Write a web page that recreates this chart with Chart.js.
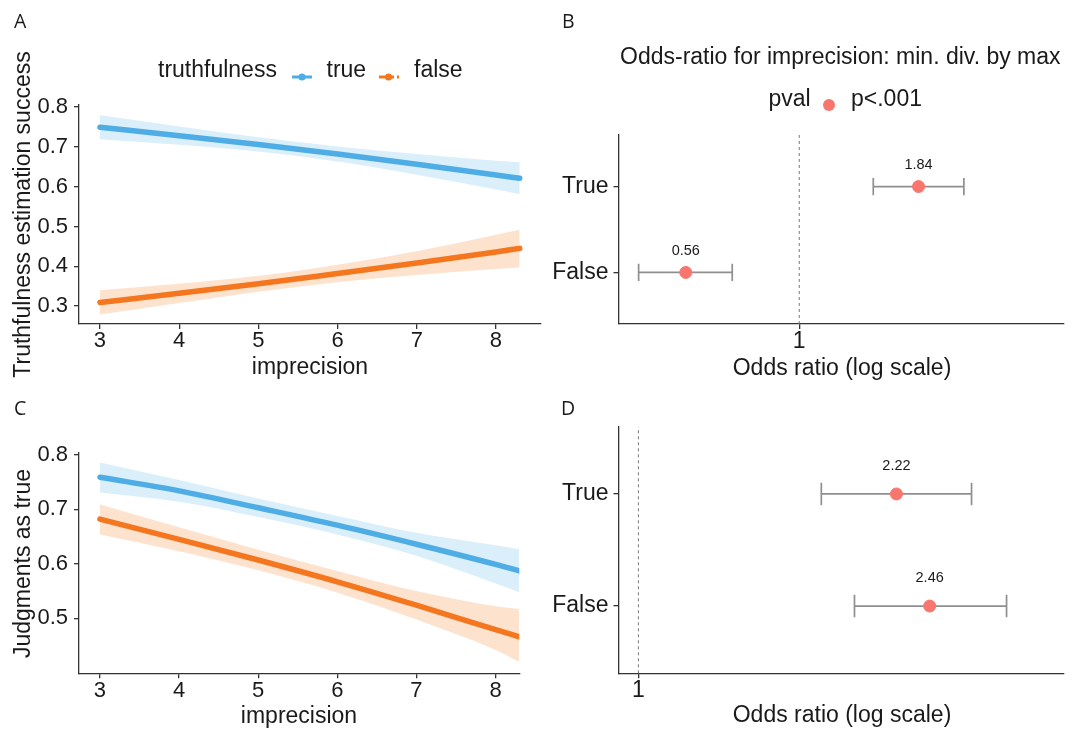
<!DOCTYPE html>
<html>
<head>
<meta charset="utf-8">
<script src="https://cdn.jsdelivr.net/npm/chart.js@4.4.1/dist/chart.umd.min.js"></script>
<style>
  body { margin: 0; background: #fff; }
  #page { position: relative; width: 1071px; height: 729px; overflow: hidden;
          font-family: 'Liberation Sans', Arial, sans-serif; color: #1a1a1a; }
  #page canvas { position: absolute; }
  .txt { position: absolute; white-space: nowrap; line-height: 1; font-size: 23px; }
  .letter { font-family: 'Open Sans', sans-serif; font-size: 19.5px; }
  .ytitle { width: 400px; text-align: center; transform: rotate(-90deg); }
  .xtitle { width: 400px; text-align: center; }
</style>
</head>
<body>
<div id="page">
  <canvas id="chartA" width="560" height="380" style="left:0;top:0"></canvas>
  <canvas id="chartB" width="531" height="380" style="left:540px;top:0"></canvas>
  <canvas id="chartC" width="560" height="349" style="left:0;top:380px"></canvas>
  <canvas id="chartD" width="531" height="349" style="left:540px;top:380px"></canvas>
</div>
<script>
// ---- data ----
const imprecision = [3, 4, 5, 6, 7, 8, 8.3];
const imprecisionTicks = [3, 4, 5, 6, 7, 8];

// panel A: truthfulness estimation success
const successTrue   = [0.749, 0.728, 0.706, 0.682, 0.656, 0.629, 0.621];
const successTrueHi = [0.779, 0.751, 0.724, 0.701, 0.682, 0.665, 0.661];
const successTrueLo = [0.719, 0.705, 0.688, 0.663, 0.630, 0.593, 0.581];
const successFalse   = [0.309, 0.332, 0.356, 0.382, 0.408, 0.436, 0.445];
const successFalseHi = [0.340, 0.356, 0.376, 0.404, 0.438, 0.479, 0.492];
const successFalseLo = [0.279, 0.308, 0.336, 0.360, 0.378, 0.393, 0.397];
const successTicks = [0.3, 0.4, 0.5, 0.6, 0.7, 0.8];

// panel C: judgments as true
const judgedTrue   = [0.759, 0.734, 0.703, 0.671, 0.636, 0.599, 0.587];
const judgedTrueHi = [0.786, 0.754, 0.720, 0.688, 0.657, 0.634, 0.627];
const judgedTrueLo = [0.731, 0.714, 0.686, 0.654, 0.615, 0.564, 0.548];
const judgedFalse   = [0.682, 0.645, 0.607, 0.567, 0.524, 0.479, 0.466];
const judgedFalseHi = [0.709, 0.667, 0.626, 0.587, 0.550, 0.522, 0.517];
const judgedFalseLo = [0.654, 0.623, 0.588, 0.547, 0.498, 0.442, 0.420];
const judgedTicks = [0.5, 0.6, 0.7, 0.8];

// panels B and D: odds ratios, rows bottom to top
const rowLabels = ['False', 'True'];
const oddsB   = [0.56, 1.84];
const oddsBLo = [0.44, 1.46];
const oddsBHi = [0.71, 2.32];
const oddsD   = [2.46, 2.22];
const oddsDLo = [1.95, 1.76];
const oddsDHi = [3.12, 2.80];
const oddsTicks = [1];

const FONT = "'Liberation Sans', Arial, sans-serif";
const TEXT = '#1a1a1a';
const AXIS = '#333333';
const BLUE = '#4EADE4', BLUE_BAND = 'rgba(86,180,233,0.22)';
const ORANGE = '#F4761E', ORANGE_BAND = 'rgba(246,140,50,0.24)';
const RED = '#F8766D';
const GREY = '#8f8f8f';

function axisStyle(extra) {
    return Object.assign({
        grid: { display: true, drawOnChartArea: false, drawTicks: true, tickLength: 5, color: AXIS, lineWidth: 1.3 },
        border: { display: true, color: AXIS, width: 1.3 }
    }, extra);
}

function pts(xs, ys) {
    return xs.map((x, i) => ({ x: x, y: ys[i] }));
}

function trendChart(id, pad, yWidth, xHeight, xMax, yMin, yMax, yTicks, series) {
    const datasets = [];
    series.forEach(s => {
        datasets.push({ data: pts(imprecision, s.hi), borderWidth: 0, pointRadius: 0,
            fill: '+1', backgroundColor: s.band, order: 2, cubicInterpolationMode: 'monotone' });
        datasets.push({ data: pts(imprecision, s.lo), borderWidth: 0, pointRadius: 0,
            fill: false, order: 2, cubicInterpolationMode: 'monotone' });
    });
    series.forEach(s => {
        datasets.push({ data: pts(imprecision, s.mid), borderColor: s.color, borderWidth: 5.5,
            pointRadius: 0, fill: false, order: 0, borderCapStyle: 'round', cubicInterpolationMode: 'monotone' });
    });

    return new Chart(document.getElementById(id), {
        type: 'line',
        data: { datasets },
        options: {
            responsive: false,
            animation: false,
            events: [],
            layout: { padding: pad },
            plugins: { legend: { display: false }, tooltip: { enabled: false } },
            scales: {
                x: axisStyle({
                    type: 'linear', min: 2.735, max: xMax,
                    afterBuildTicks: sc => { sc.ticks = imprecisionTicks.map(v => ({ value: v })); },
                    afterFit: sc => { sc.height = xHeight; },
                    ticks: { font: { family: FONT, size: 22 }, color: TEXT, padding: -1, callback: v => String(v) }
                }),
                y: axisStyle({
                    type: 'linear', min: yMin, max: yMax,
                    afterBuildTicks: sc => { sc.ticks = yTicks.map(v => ({ value: v })); },
                    afterFit: sc => { sc.width = yWidth; },
                    ticks: { font: { family: FONT, size: 22 }, color: TEXT, padding: 6, callback: v => v.toFixed(1) }
                })
            }
        }
    });
}

const valueLabels = {
    id: 'valueLabels',
    afterDatasetsDraw(chart, args, opts) {
        const { ctx } = chart;
        const x = chart.scales.x, y = chart.scales.y;
        ctx.save();
        ctx.font = '14.5px ' + FONT;
        ctx.fillStyle = TEXT;
        ctx.textAlign = 'center';
        ctx.textBaseline = 'middle';
        opts.values.forEach((v, i) => {
            ctx.fillText(v.toFixed(2), x.getPixelForValue(v), y.getPixelForValue(i + 1 + 0.25));
        });
        ctx.restore();
    }
};

function forestChart(id, pad, yWidth, xHeight, xMin, xMax, est, lo, hi) {
    const capHalf = c => Math.abs(c.chart.scales.y.getPixelForValue(1.1) - c.chart.scales.y.getPixelForValue(1));
    const datasets = [
        { type: 'line', data: [{ x: 1, y: 0.4 }, { x: 1, y: 2.6 }], borderColor: '#777', borderWidth: 1,
          borderDash: [3, 3], pointRadius: 0, order: 3 }
    ];
    est.forEach((v, i) => {
        datasets.push({ type: 'line', data: [{ x: lo[i], y: i + 1 }, { x: hi[i], y: i + 1 }],
            borderColor: GREY, borderWidth: 1.7, pointStyle: 'line', rotation: 90,
            pointRadius: capHalf, pointBorderColor: GREY, pointBorderWidth: 1.7, order: 2 });
    });
    datasets.push({ type: 'scatter', data: est.map((v, i) => ({ x: v, y: i + 1 })),
        backgroundColor: RED, borderColor: RED, pointRadius: 6, order: 0 });

    return new Chart(document.getElementById(id), {
        type: 'scatter',
        data: { datasets },
        plugins: [valueLabels],
        options: {
            responsive: false,
            animation: false,
            events: [],
            layout: { padding: pad },
            plugins: { legend: { display: false }, tooltip: { enabled: false }, valueLabels: { values: est } },
            scales: {
                x: axisStyle({
                    type: 'logarithmic', min: xMin, max: xMax,
                    afterBuildTicks: sc => { sc.ticks = oddsTicks.map(v => ({ value: v })); },
                    afterFit: sc => { sc.height = xHeight; },
                    ticks: { font: { family: FONT, size: 23 }, color: TEXT, padding: -1, callback: v => String(v) }
                }),
                y: axisStyle({
                    type: 'linear', min: 0.4, max: 2.6,
                    afterBuildTicks: sc => { sc.ticks = rowLabels.map((r, i) => ({ value: i + 1 })); },
                    afterFit: sc => { sc.width = yWidth; },
                    ticks: { font: { family: FONT, size: 23 }, color: TEXT, padding: 5, callback: v => rowLabels[v - 1] }
                })
            }
        }
    });
}

trendChart('chartA', { left: 0, top: 105, right: 19.3, bottom: 0 }, 79, 56, 8.565, 0.255, 0.805, successTicks, [
    { mid: successTrue, lo: successTrueLo, hi: successTrueHi, color: BLUE, band: BLUE_BAND },
    { mid: successFalse, lo: successFalseLo, hi: successFalseHi, color: ORANGE, band: ORANGE_BAND }
]);
trendChart('chartC', { left: 0, top: 72.7, right: 40.7, bottom: 0 }, 79, 55.7, 8.3, 0.399, 0.804, judgedTicks, [
    { mid: judgedTrue, lo: judgedTrueLo, hi: judgedTrueHi, color: BLUE, band: BLUE_BAND },
    { mid: judgedFalse, lo: judgedFalseLo, hi: judgedFalseHi, color: ORANGE, band: ORANGE_BAND }
]);
forestChart('chartB', { left: 0, top: 135, right: 5.7, bottom: 0 }, 78.5, 56, 0.397, 3.87, oddsB, oddsBLo, oddsBHi);
forestChart('chartD', { left: 0, top: 46.7, right: 5.7, bottom: 0 }, 78.5, 55.7, 0.9404, 3.726, oddsD, oddsDLo, oddsDHi);

// ---- text around the charts ----
const page = document.getElementById('page');
function addText(text, cls, left, top, html) {
    const d = document.createElement('div');
    d.className = 'txt ' + cls;
    d.style.left = left + 'px';
    d.style.top = top + 'px';
    if (html) d.innerHTML = text; else d.textContent = text;
    page.appendChild(d);
    return d;
}
// baseline sits 0.8465em below the top of a line-height:1 box
const base = (b) => b - 0.8465 * 23;

addText('A', 'letter', 14, 10.5);
addText('B', 'letter', 562, 10.5);
addText('C', 'letter', 14, 397.5);
addText('D', 'letter', 561, 397.5);

addText('Truthfulness estimation success', 'ytitle', 22 - 200, 214.5 - 11.5);
addText('Judgments as true', 'ytitle', 22 - 200, 563 - 11.5);
addText('imprecision', 'xtitle', 310 - 200, base(374));
addText('imprecision', 'xtitle', 299 - 200, base(723));
addText('Odds ratio (log scale)', 'xtitle', 842 - 200, base(375));
addText('Odds ratio (log scale)', 'xtitle', 842 - 200, base(722));

addText('Odds-ratio for imprecision: min. div. by max', '', 620, base(64.5));

// legend for A
addText('truthfulness', '', 158, base(77.5));
addText('<svg width="20" height="10"><line x1="0" y1="5" x2="20" y2="5" stroke="' + BLUE + '" stroke-width="3"/><circle cx="10" cy="5" r="3.6" fill="' + BLUE + '"/></svg>', '', 292, 63, true);
addText('true', '', 326.5, base(77.5));
addText('<svg width="20" height="10"><line x1="0" y1="5" x2="20" y2="5" stroke="' + ORANGE + '" stroke-width="3" stroke-dasharray="6,3"/><circle cx="9.5" cy="5" r="3.6" fill="' + ORANGE + '"/></svg>', '', 379, 63, true);
addText('false', '', 414, base(77.5));

// legend for B
addText('pval', '', 768.5, base(106.5));
addText('<svg width="14" height="14"><circle cx="7" cy="7" r="6" fill="' + RED + '"/></svg>', '', 822, 92.5, true);
addText('p&lt;.001', '', 851, base(106.5), true);
</script>
</body>
</html>
